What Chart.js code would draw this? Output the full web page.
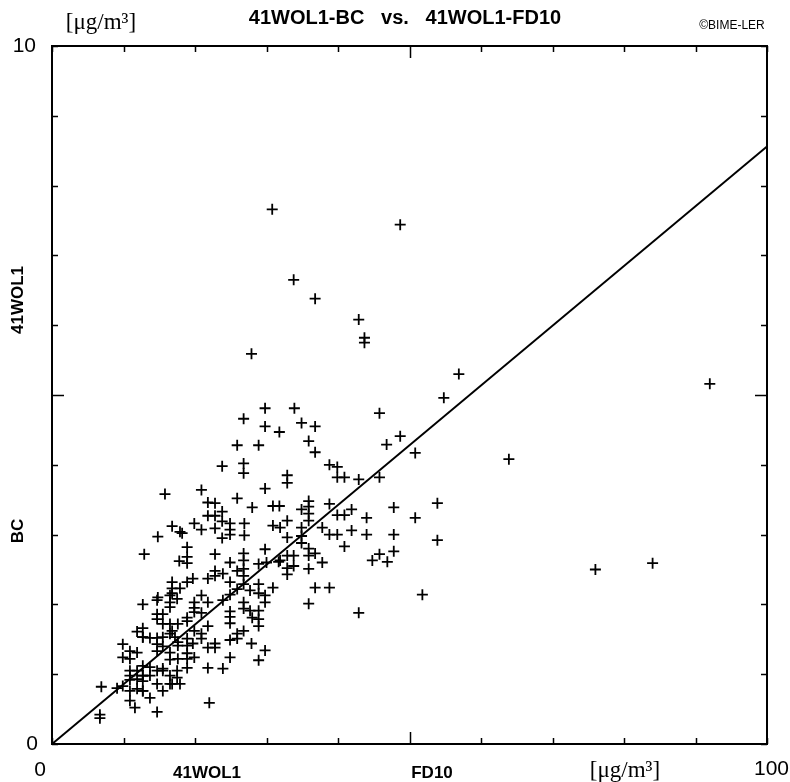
<!DOCTYPE html>
<html>
<head>
<meta charset="utf-8">
<title>41WOL1-BC vs. 41WOL1-FD10</title>
<script src="https://cdn.jsdelivr.net/npm/chart.js@4.4.0/dist/chart.umd.min.js"></script>
<style>
  body { margin: 0; background: #fff; }
  #wrap { width: 790px; height: 782px; }
</style>
</head>
<body>
<div id="wrap"><canvas id="scatter" width="790" height="782"></canvas></div>
<script>
// FD10 (x) and BC (y) daily values, in ug/m3
const fd10 = [
  30.8, 48.7, 33.8, 36.8, 42.9, 43.7, 43.7, 27.9, 56.9, 54.8, 92.0, 45.8, 29.8, 33.9, 26.8, 29.8,
  34.9, 36.8, 31.8, 25.9, 28.9, 35.9, 36.8, 46.8, 48.7, 50.8, 23.8, 26.8, 26.8, 32.9, 32.9, 38.8,
  39.9, 39.9, 40.9, 42.9, 45.8, 63.9, 15.8, 20.9, 29.8, 25.9, 21.8, 22.8, 21.8, 22.8, 23.8, 19.9,
  20.9, 22.8, 23.8, 24.9, 24.9, 24.9, 26.9, 26.9, 28.0, 30.9, 31.9, 30.9, 31.8, 18.2, 23.8, 16.8,
  17.9, 14.8, 12.9, 17.8, 16.8, 16.8, 17.9, 16.8, 14.8, 35.9, 35.9, 35.9, 35.9, 34.9, 38.8, 39.9,
  40.9, 41.9, 44.0, 47.8, 53.9, 50.8, 32.9, 34.9, 37.8, 38.8, 39.9, 41.9, 44.0, 47.8, 32.9, 34.9,
  34.9, 53.9, 40.9, 47.8, 45.8, 44.8, 46.9, 31.9, 32.9, 33.8, 35.9, 35.9, 36.8, 37.8, 32.9, 33.8,
  32.9, 35.9, 30.9, 36.8, 38.8, 35.9, 42.9, 51.8, 76.0, 84.0, 18.9, 18.9, 22.8, 26.8, 26.8, 29.8,
  18.9, 24.9, 22.8, 22.8, 23.9, 18.9, 19.7, 21.8, 24.9, 26.8, 26.8, 26.8, 25.9, 28.9, 30.0, 31.7,
  28.9, 25.9, 27.7, 20.9, 29.8, 29.8, 24.9, 28.9, 19.9, 21.8, 23.9, 24.9, 24.9, 24.9, 26.8, 26.8,
  27.7, 28.9, 28.0, 28.9, 28.9, 26.8, 25.9, 24.9, 25.9, 27.9, 29.8, 28.9, 19.9, 19.9, 20.9, 18.9,
  18.9, 21.8, 19.9, 20.9, 20.9, 18.9, 18.9, 19.7, 21.8, 22.8, 22.8, 18.9, 18.9, 19.9, 24.9, 21.8,
  23.9, 18.9, 22.0, 12.7, 14.7, 16.5, 16.5, 16.5, 17.5, 14.7, 14.7, 15.5, 12.7, 15.5, 16.5, 16.8,
  17.6, 11.9, 12.7, 12.7, 13.7, 14.7, 15.5, 16.5, 17.2, 17.6, 9.9, 10.9, 11.9, 9.9, 10.9, 14.7,
  14.7, 15.5, 16.5, 16.5, 17.6, 17.6, 10.9, 10.9, 11.9, 12.7, 13.7, 14.7, 15.5, 12.7, 12.7, 13.7,
  12.7, 11.9, 15.5, 16.5, 17.5, 17.5, 6.9, 9.1, 9.9, 10.9, 11.9, 12.7, 12.7, 13.7, 10.9, 10.9,
  14.7, 15.5, 16.5, 16.8, 17.9, 11.6, 14.7, 6.7, 6.7
];
const bc = [
  7.66, 7.44, 6.65, 6.38, 6.08, 5.82, 5.75, 5.59, 5.30, 4.96, 5.16, 4.74, 4.81, 4.81, 4.66, 4.55,
  4.60, 4.55, 4.47, 4.28, 4.28, 4.34, 4.18, 4.29, 4.41, 4.17, 3.98, 4.02, 3.88, 3.85, 3.74, 4.00,
  3.97, 3.82, 3.82, 3.79, 3.82, 4.08, 3.58, 3.64, 3.66, 3.52, 3.46, 3.45, 3.27, 3.27, 3.33, 3.16,
  3.07, 3.09, 3.19, 3.16, 3.07, 3.00, 3.16, 2.99, 3.39, 3.41, 3.10, 3.13, 3.41, 3.02, 2.95, 3.12,
  3.04, 2.97, 2.72, 2.62, 2.32, 2.23, 2.23, 2.16, 2.10, 3.48, 3.40, 3.30, 3.20, 3.36, 3.44, 3.28,
  3.28, 3.36, 3.24, 3.39, 3.45, 3.24, 3.20, 3.10, 3.10, 3.00, 3.00, 3.06, 3.00, 3.00, 2.96, 2.98,
  2.88, 2.92, 2.83, 2.76, 2.72, 2.63, 2.61, 2.63, 2.70, 2.70, 2.80, 2.70, 2.73, 2.60, 2.52, 2.55,
  2.43, 2.51, 2.24, 2.24, 2.24, 2.01, 1.88, 2.14, 2.50, 2.59, 2.82, 2.68, 2.72, 2.73, 2.63, 2.79,
  2.59, 2.60, 2.48, 2.41, 2.44, 2.32, 2.37, 2.37, 2.32, 2.51, 2.41, 2.29, 2.48, 2.58, 2.60, 2.61,
  2.29, 2.22, 2.20, 2.13, 2.13, 2.03, 2.14, 2.16, 2.03, 2.03, 2.06, 1.90, 1.82, 1.73, 2.03, 1.94,
  1.91, 1.91, 1.81, 1.79, 1.69, 1.62, 1.58, 1.49, 1.51, 1.44, 1.34, 1.20, 1.95, 1.89, 1.88, 1.81,
  1.76, 1.69, 1.62, 1.58, 1.51, 1.51, 1.41, 1.44, 1.38, 1.38, 1.44, 1.30, 1.22, 1.24, 1.24, 1.09,
  1.08, 1.09, 0.59, 2.00, 2.06, 2.13, 2.03, 1.96, 2.08, 1.86, 1.79, 1.86, 1.66, 1.72, 1.72, 1.62,
  1.72, 1.61, 1.53, 1.53, 1.52, 1.52, 1.53, 1.58, 1.53, 1.46, 1.43, 1.33, 1.31, 1.24, 1.22, 1.43,
  1.33, 1.40, 1.31, 1.21, 1.41, 1.22, 1.05, 0.98, 1.05, 1.12, 1.10, 1.05, 1.05, 0.98, 0.90, 0.98,
  0.98, 0.93, 1.08, 0.98, 0.95, 1.05, 0.82, 0.80, 0.83, 0.76, 0.79, 0.76, 0.76, 0.66, 0.62, 0.92,
  0.86, 0.76, 0.86, 0.86, 0.86, 0.52, 0.46, 0.42, 0.37
];
// least squares line through the origin, end points
const fitX = [0, 100];
const fitY = [0, 8.56];

const xTicks = [0, 10, 20, 30, 40, 50, 60, 70, 80, 90, 100];
const yTicks = [0, 1, 2, 3, 4, 5, 6, 7, 8, 9, 10];

const points = fd10.map((v, i) => ({ x: v, y: bc[i] }));
const fitLine = fitX.map((v, i) => ({ x: v, y: fitY[i] }));

// frame, inward ticks and all texts
const decor = {
  id: 'decor',
  afterDraw(chart) {
    const ctx = chart.ctx;
    const xs = chart.scales.x, ys = chart.scales.y;
    const a = chart.chartArea;
    ctx.save();
    ctx.strokeStyle = '#000';
    ctx.lineWidth = 1.5;
    xTicks.forEach(t => {
      const px = Math.round(xs.getPixelForValue(t)) + 0.5;
      const len = t === 50 ? 12 : 6;
      ctx.beginPath();
      ctx.moveTo(px, a.bottom); ctx.lineTo(px, a.bottom - len);
      ctx.moveTo(px, a.top); ctx.lineTo(px, a.top + len);
      ctx.stroke();
    });
    yTicks.forEach(t => {
      const py = Math.round(ys.getPixelForValue(t)) + 0.5;
      const len = t === 5 ? 12 : 6;
      ctx.beginPath();
      ctx.moveTo(a.left, py); ctx.lineTo(a.left + len, py);
      ctx.moveTo(a.right, py); ctx.lineTo(a.right - len, py);
      ctx.stroke();
    });
    ctx.lineWidth = 2;
    ctx.strokeRect(a.left, a.top, a.right - a.left, a.bottom - a.top);

    ctx.fillStyle = '#000';
    ctx.textBaseline = 'middle';
    ctx.font = '21px "Liberation Sans", Arial, sans-serif';
    ctx.textAlign = 'right';
    ctx.fillText('10', a.left - 16, ys.getPixelForValue(10));
    ctx.fillText('0', a.left - 14, ys.getPixelForValue(0));
    ctx.fillText('100', 789, a.bottom + 25);
    ctx.textAlign = 'center';
    ctx.fillText('0', xs.getPixelForValue(0) - 12, a.bottom + 26);

    ctx.font = 'bold 20px "Liberation Sans", Arial, sans-serif';
    ctx.fillText('41WOL1-BC   vs.   41WOL1-FD10', 405, 18);
    ctx.font = '12px "Liberation Sans", Arial, sans-serif';
    ctx.fillText('\u00A9BIME-LER', 732, 26);

    ctx.font = '23px "Liberation Serif", "Times New Roman", serif';
    ctx.fillText('[\u03BCg/m\u00B3]', 101, 23);
    ctx.fillText('[\u03BCg/m\u00B3]', 625, a.bottom + 27);

    ctx.font = 'bold 17px "Liberation Sans", Arial, sans-serif';
    ctx.fillText('41WOL1', 207, a.bottom + 29);
    ctx.fillText('FD10', 432, a.bottom + 29);
    ctx.save();
    ctx.translate(18, 300);
    ctx.rotate(-Math.PI / 2);
    ctx.fillText('41WOL1', 0, 0);
    ctx.restore();
    ctx.save();
    ctx.translate(18, 531);
    ctx.rotate(-Math.PI / 2);
    ctx.fillText('BC', 0, 0);
    ctx.restore();
    ctx.restore();
  }
};

new Chart(document.getElementById('scatter'), {
  type: 'scatter',
  data: {
    datasets: [{
      label: 'BC vs FD10',
      data: points,
      pointStyle: 'cross',
      pointRadius: 5.5,
      borderColor: '#000',
      borderWidth: 1.8,
      backgroundColor: '#000'
    }, {
      label: 'fit',
      type: 'line',
      data: fitLine,
      showLine: true,
      pointRadius: 0,
      borderColor: '#000',
      borderWidth: 2,
      fill: false
    }]
  },
  options: {
    responsive: false,
    animation: false,
    layout: { padding: { left: 52, right: 23, top: 46, bottom: 38 } },
    plugins: {
      legend: { display: false },
      tooltip: { enabled: false }
    },
    scales: {
      x: { type: 'linear', min: 0, max: 100, display: false },
      y: { type: 'linear', min: 0, max: 10, display: false }
    }
  },
  plugins: [decor]
});
</script>
</body>
</html>
